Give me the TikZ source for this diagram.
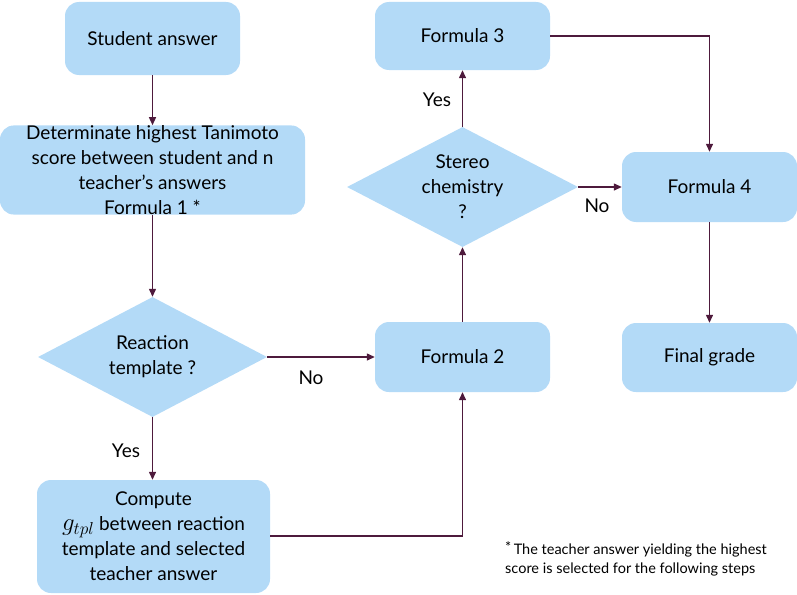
\documentclass[tikz,border=0pt]{standalone}
\usepackage{fontspec}
\setmainfont{Lato}
\usetikzlibrary{shapes.geometric,arrows.meta}
\definecolor{boxblue}{HTML}{B3DAF7}
\definecolor{arrowc}{HTML}{4E1A3C}
\begin{document}
\begin{tikzpicture}[x=1pt,y=-1pt,
  font=\fontsize{19}{25}\selectfont,
  box/.style={draw=none,fill=boxblue,rounded corners=14pt,inner sep=0pt,align=center},
  dia/.style={diamond,draw=none,fill=boxblue,inner sep=0pt},
  txt/.style={align=center,inner sep=0pt},
  arr/.style={draw=arrowc,line width=1.3pt,-{Triangle[length=8pt,width=7pt]}},
  lbl/.style={inner sep=0pt}]
\useasboundingbox (0,0) rectangle (797,594);
% boxes
\node[box,minimum width=175pt,minimum height=73pt] (sa) at (152.5,38.5) {Student answer};
\node[box,minimum width=305pt,minimum height=85pt] (det) at (152.5,170) {Determinate highest Tanimoto\\score between student and n\\teacher’s answers\\Formula 1 *};
\node[dia,minimum width=229pt,minimum height=120pt] (rt) at (152.5,357) {};
\node[txt] (rtt) at (rt) {Reaction\\template ?};
\node[box,minimum width=233pt,minimum height=113pt] (cp) at (153.5,536.5) {Compute\\{\fontsize{24}{25}\selectfont$g_{tpl}$} between reaction\\template and selected\\teacher answer};
\node[box,minimum width=175pt,minimum height=70pt] (f2) at (462.5,357) {Formula 2};
\node[dia,minimum width=231pt,minimum height=120pt] (sc) at (462.5,187) {};
\node[txt] (sct) at (sc) {Stereo\\chemistry\\?};
\node[box,minimum width=175pt,minimum height=68pt] (f3) at (462.5,36) {Formula 3};
\node[box,minimum width=175pt,minimum height=70pt] (f4) at (709.5,187) {Formula 4};
\node[box,minimum width=175pt,minimum height=69pt] (fg) at (709.5,357.5) {Final grade};
% footnote
\node[txt,align=left,anchor=west,font=\fontsize{14.5}{18.5}\selectfont] (fn) at (505,559) {\raisebox{2pt}{*}\,The teacher answer yielding the highest\\score is selected for the following steps};
% connectors
\draw[arr] (sa.south) -- (det.north);
\draw[arr] (det.south) -- (rt.north);
\draw[arr] (rt.south) -- (rt.south |- cp.north);
\draw[arr] (rt.east) -- (f2.west);
\draw[arr] (cp.east |- 0,536) -| (f2.south);
\draw[arr] (f2.north) -- (sc.south);
\draw[arr] (sc.north) -- (f3.south);
\draw[arr] (sc.east) -- (f4.west);
\draw[arr] (f3.east) -| (f4.north);
\draw[arr] (f4.south) -- (fg.north);
% labels
\node[lbl] (y1) at (126,451) {Yes};
\node[lbl] (n1) at (311,378) {No};
\node[lbl] (y2) at (437,100) {Yes};
\node[lbl] (n2) at (597,206) {No};
\end{tikzpicture}
\end{document}
